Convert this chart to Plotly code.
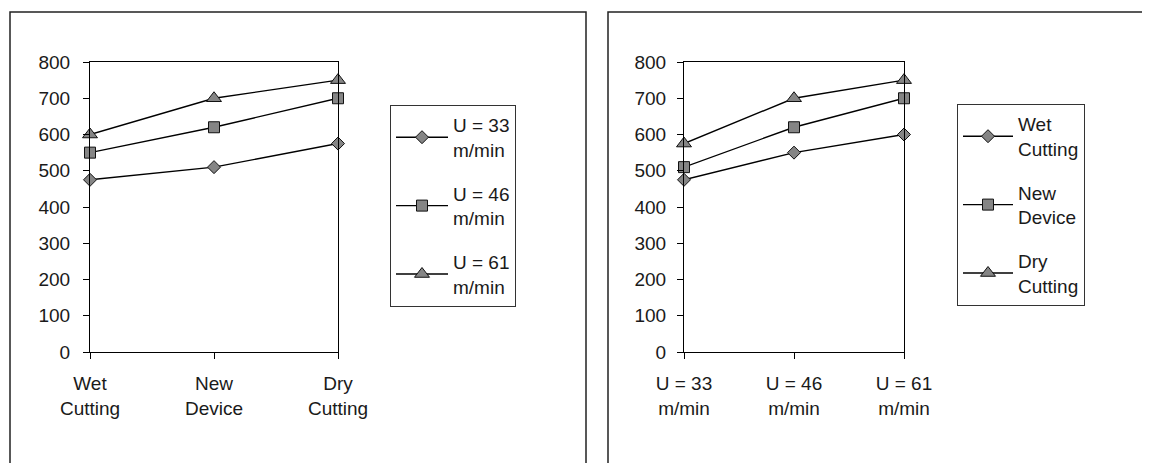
import plotly.graph_objects as go

# page body has an 8px margin; the figure is sized to fill the rest
OFF = 8
W, H = 1150 - OFF, 463 - OFF

# ---- data ----
methods = ["Wet<br>Cutting", "New<br>Device", "Dry<br>Cutting"]
speeds = ["U = 33<br>m/min", "U = 46<br>m/min", "U = 61<br>m/min"]
u33 = [475, 510, 575]     # Wet, New, Dry
u46 = [550, 620, 700]
u61 = [600, 700, 750]
wet = [475, 550, 600]     # U=33, U=46, U=61
new = [510, 620, 700]
dry = [575, 700, 750]
yticks = [0, 100, 200, 300, 400, 500, 600, 700, 800]
xticks = [0, 1, 2]

FONT = "Liberation Sans, Arial, sans-serif"
TXT = "#1a1a1a"
FILL = "#858585"
symbols = ["diamond", "square", "triangle-up"]
sizes = [10, 11, 13]

def px(x):
    return (x - OFF) / W

def py(y):
    return (H - (y - OFF)) / H

fig = go.Figure()

left_series = [(speeds[0], u33), (speeds[1], u46), (speeds[2], u61)]
right_series = [("Wet<br>Cutting", wet), ("New<br>Device", new), ("Dry<br>Cutting", dry)]

for i, (name, vals) in enumerate(left_series):
    fig.add_trace(go.Scatter(
        x=xticks, y=vals, name=name, mode="lines+markers",
        line=dict(color="black", width=1.4),
        marker=dict(symbol=symbols[i], size=sizes[i], color=FILL,
                    line=dict(color="#111", width=1)),
        xaxis="x", yaxis="y", legend="legend", legendgroup="L%d" % i,
        cliponaxis=False,
    ))
for i, (name, vals) in enumerate(right_series):
    fig.add_trace(go.Scatter(
        x=xticks, y=vals, name=name, mode="lines+markers",
        line=dict(color="black", width=1.4),
        marker=dict(symbol=symbols[i], size=sizes[i], color=FILL,
                    line=dict(color="#111", width=1)),
        xaxis="x2", yaxis="y2", legend="legend2", legendgroup="R%d" % i,
        cliponaxis=False,
    ))

ydom = [py(352), py(62)]
axfont = dict(family=FONT, size=19, color=TXT)

def xaxis(domain, anchor, labels):
    return dict(domain=domain, anchor=anchor, range=[0, 2],
                tickmode="array", tickvals=xticks, ticktext=labels,
                ticks="outside", ticklen=6, tickcolor="black", tickwidth=1,
                showline=True, linecolor="black", linewidth=1, mirror=True,
                showgrid=False, zeroline=False, tickfont=axfont,
                ticklabelstandoff=8, fixedrange=True, automargin=False)

def xover(domain, anchor, over):
    return dict(domain=domain, anchor=anchor, overlaying=over, range=[0, 2],
                tickmode="array", tickvals=[1], ticks="inside", ticklen=5,
                tickcolor="black", showticklabels=False, showgrid=False,
                zeroline=False, showline=False, fixedrange=True,
                automargin=False)

def yaxis(anchor, standoff):
    return dict(domain=ydom, anchor=anchor, range=[0, 800],
                tickmode="array", tickvals=yticks,
                ticks="outside", ticklen=6, tickcolor="black", tickwidth=1,
                showline=True, linecolor="black", linewidth=1, mirror=True,
                showgrid=False, zeroline=False, tickfont=axfont,
                ticklabelstandoff=standoff, fixedrange=True, automargin=False)

def yover(anchor, over):
    return dict(domain=ydom, anchor=anchor, overlaying=over, range=[0, 800],
                tickmode="array", tickvals=yticks, ticks="inside", ticklen=5,
                tickcolor="black", showticklabels=False, showgrid=False,
                zeroline=False, showline=False, fixedrange=True,
                automargin=False)

legfont = dict(family=FONT, size=19, color=TXT)

fig.update_layout(
    template="none",
    width=W, height=H, autosize=False,
    margin=dict(l=0, r=0, t=0, b=0, pad=0, autoexpand=False),
    paper_bgcolor="white", plot_bgcolor="white",
    showlegend=True,
    xaxis=xaxis([px(90), px(338)], "y", methods),
    yaxis=yaxis("x", 9),
    xaxis2=xaxis([px(684), px(904)], "y2", speeds),
    yaxis2=yaxis("x2", 7),
    xaxis3=xover([px(90), px(338)], "y", "x"),
    xaxis4=xover([px(684), px(904)], "y2", "x2"),
    yaxis3=yover("x", "y"),
    yaxis4=yover("x2", "y2"),
    legend=dict(x=px(390), y=py(105), xanchor="left", yanchor="top",
                bordercolor="#333", borderwidth=1, bgcolor="white",
                font=legfont, traceorder="grouped", tracegroupgap=16,
                itemwidth=52),
    legend2=dict(x=px(957), y=py(104), xanchor="left", yanchor="top",
                 bordercolor="#333", borderwidth=1, bgcolor="white",
                 font=legfont, traceorder="grouped", tracegroupgap=16,
                 itemwidth=50),
    shapes=[
        dict(type="rect", xref="paper", yref="paper",
             x0=px(10), x1=px(586), y0=-0.1, y1=py(12),
             line=dict(color="#222", width=1.5)),
        dict(type="rect", xref="paper", yref="paper",
             x0=px(608), x1=1.05, y0=-0.1, y1=py(12),
             line=dict(color="#222", width=1.5)),
    ],
)

fig.write_html("out.html")
